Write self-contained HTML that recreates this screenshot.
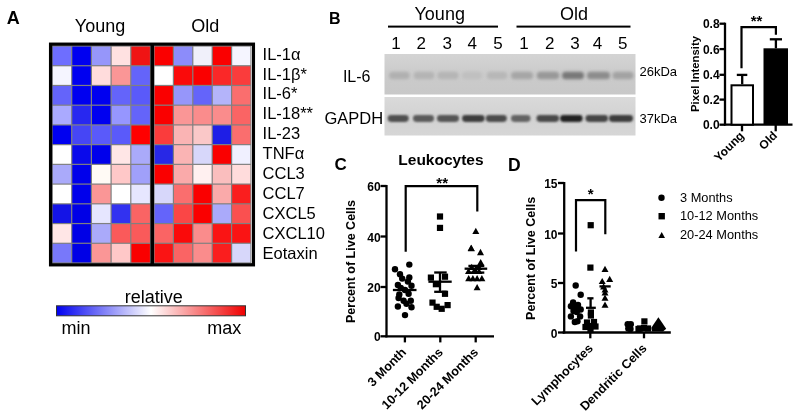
<!DOCTYPE html>
<html><head><meta charset="utf-8"><style>
html,body{margin:0;padding:0;background:#fff;overflow:hidden;}
svg{display:block;font-family:"Liberation Sans", sans-serif;will-change:transform;}
</style></head><body>
<svg width="800" height="419" viewBox="0 0 800 419">
<rect width="800" height="419" fill="#fff"/>
<rect x="52.0" y="46.0" width="199.0" height="217.0" fill="#808080"/>
<rect x="52.60" y="46.60" width="18.50" height="18.53" fill="rgb(110, 110, 255)"/>
<rect x="72.30" y="46.60" width="18.50" height="18.53" fill="rgb(0, 0, 240)"/>
<rect x="92.00" y="46.60" width="18.50" height="18.53" fill="rgb(150, 150, 250)"/>
<rect x="111.70" y="46.60" width="18.50" height="18.53" fill="rgb(255, 225, 225)"/>
<rect x="131.40" y="46.60" width="18.50" height="18.53" fill="rgb(240, 20, 20)"/>
<rect x="154.60" y="46.60" width="18.20" height="18.53" fill="rgb(250, 0, 0)"/>
<rect x="174.00" y="46.60" width="18.20" height="18.53" fill="rgb(140, 140, 250)"/>
<rect x="193.40" y="46.60" width="18.20" height="18.53" fill="rgb(240, 240, 250)"/>
<rect x="212.80" y="46.60" width="18.20" height="18.53" fill="rgb(250, 0, 0)"/>
<rect x="232.20" y="46.60" width="18.20" height="18.53" fill="rgb(245, 245, 255)"/>
<rect x="52.60" y="66.33" width="18.50" height="18.53" fill="rgb(245, 245, 255)"/>
<rect x="72.30" y="66.33" width="18.50" height="18.53" fill="rgb(0, 0, 240)"/>
<rect x="92.00" y="66.33" width="18.50" height="18.53" fill="rgb(255, 220, 220)"/>
<rect x="111.70" y="66.33" width="18.50" height="18.53" fill="rgb(250, 150, 150)"/>
<rect x="131.40" y="66.33" width="18.50" height="18.53" fill="rgb(100, 100, 250)"/>
<rect x="154.60" y="66.33" width="18.20" height="18.53" fill="rgb(255, 255, 255)"/>
<rect x="174.00" y="66.33" width="18.20" height="18.53" fill="rgb(250, 10, 10)"/>
<rect x="193.40" y="66.33" width="18.20" height="18.53" fill="rgb(250, 0, 0)"/>
<rect x="212.80" y="66.33" width="18.20" height="18.53" fill="rgb(250, 40, 40)"/>
<rect x="232.20" y="66.33" width="18.20" height="18.53" fill="rgb(250, 60, 60)"/>
<rect x="52.60" y="86.05" width="18.50" height="18.53" fill="rgb(100, 100, 250)"/>
<rect x="72.30" y="86.05" width="18.50" height="18.53" fill="rgb(0, 0, 240)"/>
<rect x="92.00" y="86.05" width="18.50" height="18.53" fill="rgb(0, 0, 240)"/>
<rect x="111.70" y="86.05" width="18.50" height="18.53" fill="rgb(100, 100, 250)"/>
<rect x="131.40" y="86.05" width="18.50" height="18.53" fill="rgb(90, 90, 250)"/>
<rect x="154.60" y="86.05" width="18.20" height="18.53" fill="rgb(250, 0, 0)"/>
<rect x="174.00" y="86.05" width="18.20" height="18.53" fill="rgb(150, 150, 250)"/>
<rect x="193.40" y="86.05" width="18.20" height="18.53" fill="rgb(100, 100, 250)"/>
<rect x="212.80" y="86.05" width="18.20" height="18.53" fill="rgb(180, 180, 250)"/>
<rect x="232.20" y="86.05" width="18.20" height="18.53" fill="rgb(250, 110, 110)"/>
<rect x="52.60" y="105.78" width="18.50" height="18.53" fill="rgb(170, 170, 255)"/>
<rect x="72.30" y="105.78" width="18.50" height="18.53" fill="rgb(40, 40, 240)"/>
<rect x="92.00" y="105.78" width="18.50" height="18.53" fill="rgb(0, 0, 240)"/>
<rect x="111.70" y="105.78" width="18.50" height="18.53" fill="rgb(150, 150, 255)"/>
<rect x="131.40" y="105.78" width="18.50" height="18.53" fill="rgb(100, 100, 250)"/>
<rect x="154.60" y="105.78" width="18.20" height="18.53" fill="rgb(250, 0, 0)"/>
<rect x="174.00" y="105.78" width="18.20" height="18.53" fill="rgb(250, 150, 150)"/>
<rect x="193.40" y="105.78" width="18.20" height="18.53" fill="rgb(250, 140, 140)"/>
<rect x="212.80" y="105.78" width="18.20" height="18.53" fill="rgb(250, 140, 140)"/>
<rect x="232.20" y="105.78" width="18.20" height="18.53" fill="rgb(250, 100, 100)"/>
<rect x="52.60" y="125.51" width="18.50" height="18.53" fill="rgb(0, 0, 240)"/>
<rect x="72.30" y="125.51" width="18.50" height="18.53" fill="rgb(70, 70, 245)"/>
<rect x="92.00" y="125.51" width="18.50" height="18.53" fill="rgb(90, 90, 250)"/>
<rect x="111.70" y="125.51" width="18.50" height="18.53" fill="rgb(90, 90, 250)"/>
<rect x="131.40" y="125.51" width="18.50" height="18.53" fill="rgb(255, 0, 0)"/>
<rect x="154.60" y="125.51" width="18.20" height="18.53" fill="rgb(250, 60, 60)"/>
<rect x="174.00" y="125.51" width="18.20" height="18.53" fill="rgb(250, 180, 180)"/>
<rect x="193.40" y="125.51" width="18.20" height="18.53" fill="rgb(250, 200, 200)"/>
<rect x="212.80" y="125.51" width="18.20" height="18.53" fill="rgb(30, 30, 230)"/>
<rect x="232.20" y="125.51" width="18.20" height="18.53" fill="rgb(250, 110, 110)"/>
<rect x="52.60" y="145.24" width="18.50" height="18.53" fill="rgb(255, 255, 255)"/>
<rect x="72.30" y="145.24" width="18.50" height="18.53" fill="rgb(10, 10, 235)"/>
<rect x="92.00" y="145.24" width="18.50" height="18.53" fill="rgb(0, 0, 235)"/>
<rect x="111.70" y="145.24" width="18.50" height="18.53" fill="rgb(255, 230, 230)"/>
<rect x="131.40" y="145.24" width="18.50" height="18.53" fill="rgb(170, 170, 250)"/>
<rect x="154.60" y="145.24" width="18.20" height="18.53" fill="rgb(40, 40, 230)"/>
<rect x="174.00" y="145.24" width="18.20" height="18.53" fill="rgb(250, 180, 180)"/>
<rect x="193.40" y="145.24" width="18.20" height="18.53" fill="rgb(215, 215, 250)"/>
<rect x="212.80" y="145.24" width="18.20" height="18.53" fill="rgb(250, 0, 0)"/>
<rect x="232.20" y="145.24" width="18.20" height="18.53" fill="rgb(240, 240, 255)"/>
<rect x="52.60" y="164.96" width="18.50" height="18.53" fill="rgb(170, 170, 250)"/>
<rect x="72.30" y="164.96" width="18.50" height="18.53" fill="rgb(0, 0, 235)"/>
<rect x="92.00" y="164.96" width="18.50" height="18.53" fill="rgb(255, 250, 245)"/>
<rect x="111.70" y="164.96" width="18.50" height="18.53" fill="rgb(255, 200, 200)"/>
<rect x="131.40" y="164.96" width="18.50" height="18.53" fill="rgb(160, 160, 250)"/>
<rect x="154.60" y="164.96" width="18.20" height="18.53" fill="rgb(250, 0, 0)"/>
<rect x="174.00" y="164.96" width="18.20" height="18.53" fill="rgb(250, 170, 170)"/>
<rect x="193.40" y="164.96" width="18.20" height="18.53" fill="rgb(255, 240, 240)"/>
<rect x="212.80" y="164.96" width="18.20" height="18.53" fill="rgb(250, 190, 190)"/>
<rect x="232.20" y="164.96" width="18.20" height="18.53" fill="rgb(255, 220, 220)"/>
<rect x="52.60" y="184.69" width="18.50" height="18.53" fill="rgb(255, 255, 255)"/>
<rect x="72.30" y="184.69" width="18.50" height="18.53" fill="rgb(0, 0, 235)"/>
<rect x="92.00" y="184.69" width="18.50" height="18.53" fill="rgb(250, 150, 150)"/>
<rect x="111.70" y="184.69" width="18.50" height="18.53" fill="rgb(255, 255, 255)"/>
<rect x="131.40" y="184.69" width="18.50" height="18.53" fill="rgb(230, 230, 255)"/>
<rect x="154.60" y="184.69" width="18.20" height="18.53" fill="rgb(215, 215, 250)"/>
<rect x="174.00" y="184.69" width="18.20" height="18.53" fill="rgb(250, 110, 110)"/>
<rect x="193.40" y="184.69" width="18.20" height="18.53" fill="rgb(250, 0, 0)"/>
<rect x="212.80" y="184.69" width="18.20" height="18.53" fill="rgb(250, 170, 170)"/>
<rect x="232.20" y="184.69" width="18.20" height="18.53" fill="rgb(250, 30, 30)"/>
<rect x="52.60" y="204.42" width="18.50" height="18.53" fill="rgb(20, 20, 230)"/>
<rect x="72.30" y="204.42" width="18.50" height="18.53" fill="rgb(0, 0, 230)"/>
<rect x="92.00" y="204.42" width="18.50" height="18.53" fill="rgb(230, 230, 255)"/>
<rect x="111.70" y="204.42" width="18.50" height="18.53" fill="rgb(50, 50, 240)"/>
<rect x="131.40" y="204.42" width="18.50" height="18.53" fill="rgb(250, 100, 100)"/>
<rect x="154.60" y="204.42" width="18.20" height="18.53" fill="rgb(100, 100, 250)"/>
<rect x="174.00" y="204.42" width="18.20" height="18.53" fill="rgb(250, 70, 70)"/>
<rect x="193.40" y="204.42" width="18.20" height="18.53" fill="rgb(250, 0, 0)"/>
<rect x="212.80" y="204.42" width="18.20" height="18.53" fill="rgb(170, 170, 250)"/>
<rect x="232.20" y="204.42" width="18.20" height="18.53" fill="rgb(250, 80, 80)"/>
<rect x="52.60" y="224.15" width="18.50" height="18.53" fill="rgb(255, 230, 230)"/>
<rect x="72.30" y="224.15" width="18.50" height="18.53" fill="rgb(0, 0, 230)"/>
<rect x="92.00" y="224.15" width="18.50" height="18.53" fill="rgb(170, 170, 250)"/>
<rect x="111.70" y="224.15" width="18.50" height="18.53" fill="rgb(250, 90, 90)"/>
<rect x="131.40" y="224.15" width="18.50" height="18.53" fill="rgb(250, 90, 90)"/>
<rect x="154.60" y="224.15" width="18.20" height="18.53" fill="rgb(250, 100, 100)"/>
<rect x="174.00" y="224.15" width="18.20" height="18.53" fill="rgb(250, 10, 10)"/>
<rect x="193.40" y="224.15" width="18.20" height="18.53" fill="rgb(250, 140, 140)"/>
<rect x="212.80" y="224.15" width="18.20" height="18.53" fill="rgb(250, 20, 20)"/>
<rect x="232.20" y="224.15" width="18.20" height="18.53" fill="rgb(250, 20, 20)"/>
<rect x="52.60" y="243.87" width="18.50" height="18.53" fill="rgb(120, 120, 250)"/>
<rect x="72.30" y="243.87" width="18.50" height="18.53" fill="rgb(0, 0, 230)"/>
<rect x="92.00" y="243.87" width="18.50" height="18.53" fill="rgb(250, 150, 150)"/>
<rect x="111.70" y="243.87" width="18.50" height="18.53" fill="rgb(255, 200, 200)"/>
<rect x="131.40" y="243.87" width="18.50" height="18.53" fill="rgb(250, 0, 0)"/>
<rect x="154.60" y="243.87" width="18.20" height="18.53" fill="rgb(250, 20, 20)"/>
<rect x="174.00" y="243.87" width="18.20" height="18.53" fill="rgb(250, 100, 100)"/>
<rect x="193.40" y="243.87" width="18.20" height="18.53" fill="rgb(250, 140, 140)"/>
<rect x="212.80" y="243.87" width="18.20" height="18.53" fill="rgb(250, 30, 30)"/>
<rect x="232.20" y="243.87" width="18.20" height="18.53" fill="rgb(215, 215, 250)"/>
<rect x="50.6" y="44.2" width="202.8" height="220.6" fill="none" stroke="#000" stroke-width="3.3"/>
<rect x="150.5" y="44" width="3.5" height="221" fill="#000"/>
<text x="6.8" y="23.7" font-size="18" font-weight="bold">A</text>
<text x="74.8" y="31.8" font-size="18">Young</text>
<text x="191.3" y="31.7" font-size="18">Old</text>
<text x="262.6" y="59.60" font-size="16.5">IL-1α</text>
<text x="262.6" y="79.50" font-size="16.5">IL-1β*</text>
<text x="262.6" y="99.40" font-size="16.5">IL-6*</text>
<text x="262.6" y="119.30" font-size="16.5">IL-18**</text>
<text x="262.6" y="139.20" font-size="16.5">IL-23</text>
<text x="262.6" y="159.10" font-size="16.5">TNFα</text>
<text x="262.6" y="179.00" font-size="16.5">CCL3</text>
<text x="262.6" y="198.90" font-size="16.5">CCL7</text>
<text x="262.6" y="218.80" font-size="16.5">CXCL5</text>
<text x="262.6" y="238.70" font-size="16.5">CXCL10</text>
<text x="262.6" y="258.60" font-size="16.5">Eotaxin</text>
<defs><linearGradient id="cb" x1="0" x2="1" y1="0" y2="0"><stop offset="0" stop-color="#0000f0"/><stop offset="0.5" stop-color="#ffffff"/><stop offset="1" stop-color="#f00000"/></linearGradient><filter id="bl" x="-50%" y="-50%" width="200%" height="200%"><feGaussianBlur stdDeviation="1.6"/></filter><filter id="bl2" x="-50%" y="-50%" width="200%" height="200%"><feGaussianBlur stdDeviation="0.85"/></filter></defs>
<rect x="56.5" y="305.8" width="189" height="10" fill="url(#cb)" stroke="#333" stroke-width="1"/>
<text x="124.8" y="303.2" font-size="18">relative</text>
<text x="61.6" y="334.4" font-size="18">min</text>
<text x="207.2" y="334.4" font-size="18">max</text>
<text x="329" y="23.6" font-size="16" font-weight="bold">B</text>
<text x="414.5" y="19.9" font-size="18">Young</text>
<text x="560" y="19.7" font-size="18">Old</text>
<rect x="388" y="25.6" width="110" height="2" fill="#000"/>
<rect x="516.5" y="25.6" width="114" height="2" fill="#000"/>
<text x="396" y="49.2" font-size="17" text-anchor="middle">1</text>
<text x="421.3" y="49.2" font-size="17" text-anchor="middle">2</text>
<text x="447.2" y="49.2" font-size="17" text-anchor="middle">3</text>
<text x="472.2" y="49.2" font-size="17" text-anchor="middle">4</text>
<text x="497.9" y="49.2" font-size="17" text-anchor="middle">5</text>
<text x="524" y="49.2" font-size="17" text-anchor="middle">1</text>
<text x="549.75" y="49.2" font-size="17" text-anchor="middle">2</text>
<text x="575" y="49.2" font-size="17" text-anchor="middle">3</text>
<text x="597.5" y="49.2" font-size="17" text-anchor="middle">4</text>
<text x="622.75" y="49.2" font-size="17" text-anchor="middle">5</text>
<defs><linearGradient id="bgu" x1="0" x2="0" y1="0" y2="1"><stop offset="0" stop-color="#d4d4d4"/><stop offset="0.5" stop-color="#cbcbcb"/><stop offset="1" stop-color="#c8c8c8"/></linearGradient><linearGradient id="bgl" x1="0" x2="0" y1="0" y2="1"><stop offset="0" stop-color="#dadada"/><stop offset="0.5" stop-color="#d2d2d2"/><stop offset="1" stop-color="#d6d6d6"/></linearGradient></defs>
<rect x="384.5" y="54" width="251" height="40.5" fill="url(#bgu)"/>
<rect x="384.5" y="97" width="251" height="38.5" fill="url(#bgl)"/>
<rect x="389.1" y="71.8" width="20.5" height="7.4" rx="3.5" fill="rgb(176,176,176)" filter="url(#bl)"/>
<rect x="413.8" y="71.8" width="20.5" height="7.4" rx="3.5" fill="rgb(180,180,180)" filter="url(#bl)"/>
<rect x="437.5" y="71.8" width="21" height="7.4" rx="3.5" fill="rgb(181,181,181)" filter="url(#bl)"/>
<rect x="462.0" y="71.8" width="20" height="7.4" rx="3.5" fill="rgb(192,192,192)" filter="url(#bl)"/>
<rect x="486.8" y="71.8" width="20.5" height="7.4" rx="3.5" fill="rgb(183,183,183)" filter="url(#bl)"/>
<rect x="511.0" y="71.8" width="22" height="7.4" rx="3.5" fill="rgb(166,166,166)" filter="url(#bl)"/>
<rect x="536.8" y="71.8" width="22.5" height="7.4" rx="3.5" fill="rgb(152,152,152)" filter="url(#bl)"/>
<rect x="562.0" y="71.8" width="22" height="7.4" rx="3.5" fill="rgb(120,120,120)" filter="url(#bl)"/>
<rect x="587.0" y="71.8" width="23" height="7.4" rx="3.5" fill="rgb(140,140,140)" filter="url(#bl)"/>
<rect x="612.5" y="71.8" width="21" height="7.4" rx="3.5" fill="rgb(163,163,163)" filter="url(#bl)"/>
<rect x="387.7" y="114.9" width="21" height="7" rx="3.3" fill="rgb(80,80,80)" filter="url(#bl2)"/>
<rect x="413.0" y="114.9" width="21" height="7" rx="3.3" fill="rgb(90,90,90)" filter="url(#bl2)"/>
<rect x="437.0" y="114.9" width="22" height="7" rx="3.3" fill="rgb(85,85,85)" filter="url(#bl2)"/>
<rect x="462.1" y="114.9" width="22.5" height="7" rx="3.3" fill="rgb(62,62,62)" filter="url(#bl2)"/>
<rect x="485.8" y="114.9" width="21" height="7" rx="3.3" fill="rgb(75,75,75)" filter="url(#bl2)"/>
<rect x="511.0" y="114.9" width="19.5" height="7" rx="3.3" fill="rgb(100,100,100)" filter="url(#bl2)"/>
<rect x="536.5" y="114.9" width="22.5" height="7" rx="3.3" fill="rgb(72,72,72)" filter="url(#bl2)"/>
<rect x="560.1" y="114.9" width="22.5" height="7" rx="3.3" fill="rgb(35,35,35)" filter="url(#bl2)"/>
<rect x="585.5" y="114.9" width="22.5" height="7" rx="3.3" fill="rgb(68,68,68)" filter="url(#bl2)"/>
<rect x="609.0" y="114.9" width="24" height="7" rx="3.3" fill="rgb(60,60,60)" filter="url(#bl2)"/>
<text x="342.9" y="81.7" font-size="16">IL-6</text>
<text x="324.5" y="123.5" font-size="16.5">GAPDH</text>
<text x="639.5" y="75.5" font-size="13">26kDa</text>
<text x="639.5" y="122.5" font-size="13">37kDa</text>
<line x1="725" y1="22.7" x2="725" y2="125.5" stroke="#000" stroke-width="2.3"/>
<line x1="719.5" y1="23.7" x2="725" y2="23.7" stroke="#000" stroke-width="2.3"/>
<text x="719.6" y="28.1" font-size="12" font-weight="bold" text-anchor="end">0.8</text>
<line x1="719.5" y1="49.1" x2="725" y2="49.1" stroke="#000" stroke-width="2.3"/>
<text x="719.6" y="53.5" font-size="12" font-weight="bold" text-anchor="end">0.6</text>
<line x1="719.5" y1="74.8" x2="725" y2="74.8" stroke="#000" stroke-width="2.3"/>
<text x="719.6" y="79.2" font-size="12" font-weight="bold" text-anchor="end">0.4</text>
<line x1="719.5" y1="99.6" x2="725" y2="99.6" stroke="#000" stroke-width="2.3"/>
<text x="719.6" y="104.0" font-size="12" font-weight="bold" text-anchor="end">0.2</text>
<line x1="719.5" y1="124.7" x2="725" y2="124.7" stroke="#000" stroke-width="2.3"/>
<text x="719.6" y="129.1" font-size="12" font-weight="bold" text-anchor="end">0.0</text>
<line x1="724" y1="124.7" x2="792.5" y2="124.7" stroke="#000" stroke-width="2.3"/>
<line x1="742" y1="124.7" x2="742" y2="131.3" stroke="#000" stroke-width="2.3"/>
<line x1="775.7" y1="124.7" x2="775.7" y2="131.3" stroke="#000" stroke-width="2.3"/>
<rect x="731.5" y="85.3" width="21.5" height="39.4" fill="#fff" stroke="#000" stroke-width="2"/>
<line x1="742.2" y1="84.3" x2="742.2" y2="74.9" stroke="#000" stroke-width="2.3"/>
<line x1="736.8" y1="74.9" x2="747.3" y2="74.9" stroke="#000" stroke-width="2.3"/>
<rect x="763.5" y="48.3" width="24.5" height="76.5" fill="#000"/>
<line x1="775.9" y1="48.3" x2="775.9" y2="39.3" stroke="#000" stroke-width="2.3"/>
<line x1="769.8" y1="39.3" x2="782" y2="39.3" stroke="#000" stroke-width="2.3"/>
<polyline points="741.5,68.2 741.5,27.2 775.9,27.2 775.9,34.8" fill="none" stroke="#000" stroke-width="2.2"/>
<text x="756.5" y="26.2" font-size="15" font-weight="bold" text-anchor="middle">**</text>
<text transform="translate(699,74) rotate(-90)" font-size="11.3" font-weight="bold" text-anchor="middle">Pixel Intensity</text>
<text transform="translate(744.8,136.5) rotate(-45)" font-size="12" font-weight="bold" text-anchor="end">Young</text>
<text transform="translate(778,136.3) rotate(-45)" font-size="12" font-weight="bold" text-anchor="end">Old</text>
<text x="334.5" y="170" font-size="17" font-weight="bold">C</text>
<text x="398.3" y="165.3" font-size="15.5" font-weight="bold">Leukocytes</text>
<line x1="386.5" y1="185" x2="386.5" y2="337.3" stroke="#000" stroke-width="2.3"/>
<line x1="380.5" y1="186" x2="386.5" y2="186" stroke="#000" stroke-width="2.3"/>
<text x="380.6" y="191.0" font-size="12" font-weight="bold" text-anchor="end">60</text>
<line x1="380.5" y1="236.5" x2="386.5" y2="236.5" stroke="#000" stroke-width="2.3"/>
<text x="380.6" y="241.5" font-size="12" font-weight="bold" text-anchor="end">40</text>
<line x1="380.5" y1="287" x2="386.5" y2="287" stroke="#000" stroke-width="2.3"/>
<text x="380.6" y="292.0" font-size="12" font-weight="bold" text-anchor="end">20</text>
<line x1="380.5" y1="336.3" x2="386.5" y2="336.3" stroke="#000" stroke-width="2.3"/>
<text x="380.6" y="341.3" font-size="12" font-weight="bold" text-anchor="end">0</text>
<line x1="385.5" y1="336.3" x2="494" y2="336.3" stroke="#000" stroke-width="2.3"/>
<line x1="404.9" y1="336.3" x2="404.9" y2="342.4" stroke="#000" stroke-width="2.3"/>
<line x1="440.3" y1="336.3" x2="440.3" y2="342.4" stroke="#000" stroke-width="2.3"/>
<line x1="475.7" y1="336.3" x2="475.7" y2="342.4" stroke="#000" stroke-width="2.3"/>
<polyline points="405.7,251.8 405.7,186.2 477.3,186.2 477.3,211.5" fill="none" stroke="#000" stroke-width="2.2"/>
<text x="442.2" y="187.9" font-size="15" font-weight="bold" text-anchor="middle">**</text>
<text transform="translate(354.8,261.5) rotate(-90)" font-size="12.5" font-weight="bold" text-anchor="middle">Percent of Live Cells</text>
<text transform="translate(407,353) rotate(-45)" font-size="12.6" font-weight="bold" text-anchor="end">3 Month</text>
<text transform="translate(443.6,353) rotate(-45)" font-size="12.6" font-weight="bold" text-anchor="end">10-12 Months</text>
<text transform="translate(479,353) rotate(-45)" font-size="12.6" font-weight="bold" text-anchor="end">20-24 Months</text>
<g fill="#000">
<circle cx="409.3" cy="264.6" r="3.2"/>
<circle cx="395.0" cy="269.3" r="3.2"/>
<circle cx="400.0" cy="274.3" r="3.2"/>
<circle cx="402.2" cy="278.6" r="3.2"/>
<circle cx="409.3" cy="277.5" r="3.2"/>
<circle cx="407.9" cy="281.5" r="3.2"/>
<circle cx="397.9" cy="285.0" r="3.2"/>
<circle cx="411.5" cy="285.8" r="3.2"/>
<circle cx="400.8" cy="287.9" r="3.2"/>
<circle cx="405.0" cy="290.0" r="3.2"/>
<circle cx="399.3" cy="294.4" r="3.2"/>
<circle cx="408.6" cy="293.7" r="3.2"/>
<circle cx="398.6" cy="298.0" r="3.2"/>
<circle cx="403.6" cy="300.8" r="3.2"/>
<circle cx="410.8" cy="300.8" r="3.2"/>
<circle cx="406.5" cy="303.7" r="3.2"/>
<circle cx="397.9" cy="306.5" r="3.2"/>
<circle cx="411.5" cy="307.3" r="3.2"/>
<circle cx="405.0" cy="315.1" r="3.2"/>
<rect x="436.9" y="213.4" width="6.2" height="6.2"/>
<rect x="436.9" y="224.8" width="6.2" height="6.2"/>
<rect x="427.8" y="274.5" width="6.2" height="6.2"/>
<rect x="441.9" y="273.6" width="6.2" height="6.2"/>
<rect x="432.8" y="281.1" width="6.2" height="6.2"/>
<rect x="441.9" y="290.7" width="6.2" height="6.2"/>
<rect x="429.4" y="299.5" width="6.2" height="6.2"/>
<rect x="433.6" y="303.7" width="6.2" height="6.2"/>
<rect x="438.6" y="305.7" width="6.2" height="6.2"/>
<rect x="444.5" y="302.0" width="6.2" height="6.2"/>
<polygon points="477.0,255.2 484.0,255.2 480.5,248.8"/>
<polygon points="467.6,251.0 474.6,251.0 471.1,244.7"/>
<polygon points="472.3,234.0 479.3,234.0 475.8,227.7"/>
<polygon points="467.8,251.2 474.8,251.2 471.3,244.8"/>
<polygon points="477.2,265.2 484.2,265.2 480.7,259.0"/>
<polygon points="468.2,270.0 475.2,270.0 471.7,263.8"/>
<polygon points="475.4,270.0 482.4,270.0 478.9,263.8"/>
<polygon points="465.0,274.1 472.0,274.1 468.5,267.9"/>
<polygon points="470.5,274.1 477.5,274.1 474.0,267.9"/>
<polygon points="475.5,274.1 482.5,274.1 479.0,267.9"/>
<polygon points="465.2,281.3 472.2,281.3 468.7,275.1"/>
<polygon points="469.4,281.3 476.4,281.3 472.9,275.1"/>
<polygon points="473.6,281.3 480.6,281.3 477.1,275.1"/>
<polygon points="478.4,281.3 485.4,281.3 481.9,275.1"/>
<polygon points="473.6,290.3 480.6,290.3 477.1,284.1"/>
</g>
<line x1="392.9" y1="290" x2="416.5" y2="290" stroke="#000" stroke-width="2.3"/>
<line x1="428.4" y1="281.7" x2="451.7" y2="281.7" stroke="#000" stroke-width="2.3"/>
<line x1="440" y1="272.5" x2="440" y2="291.8" stroke="#000" stroke-width="2.3"/>
<line x1="434.2" y1="272.5" x2="446.7" y2="272.5" stroke="#000" stroke-width="2.3"/>
<line x1="434.2" y1="291.8" x2="446.7" y2="291.8" stroke="#000" stroke-width="2.3"/>
<line x1="464.6" y1="268.7" x2="487.2" y2="268.7" stroke="#000" stroke-width="2.3"/>
<line x1="476" y1="265.9" x2="476" y2="272.6" stroke="#000" stroke-width="2.3"/>
<line x1="468.4" y1="265.9" x2="484.3" y2="265.9" stroke="#000" stroke-width="2.3"/>
<line x1="468.4" y1="272.6" x2="484.3" y2="272.6" stroke="#000" stroke-width="2.3"/>
<text x="508" y="171" font-size="17.5" font-weight="bold">D</text>
<line x1="564.2" y1="182" x2="564.2" y2="333.5" stroke="#000" stroke-width="2.3"/>
<line x1="558" y1="183" x2="564.2" y2="183" stroke="#000" stroke-width="2.3"/>
<text x="557.5" y="188.0" font-size="12" font-weight="bold" text-anchor="end">15</text>
<line x1="558" y1="233.5" x2="564.2" y2="233.5" stroke="#000" stroke-width="2.3"/>
<text x="557.5" y="238.5" font-size="12" font-weight="bold" text-anchor="end">10</text>
<line x1="558" y1="283" x2="564.2" y2="283" stroke="#000" stroke-width="2.3"/>
<text x="557.5" y="288.0" font-size="12" font-weight="bold" text-anchor="end">5</text>
<line x1="558" y1="332.5" x2="564.2" y2="332.5" stroke="#000" stroke-width="2.3"/>
<text x="557.5" y="337.5" font-size="12" font-weight="bold" text-anchor="end">0</text>
<line x1="562.6" y1="332.5" x2="670.8" y2="332.5" stroke="#000" stroke-width="2.3"/>
<line x1="590.3" y1="332.5" x2="590.3" y2="338.3" stroke="#000" stroke-width="2.3"/>
<line x1="644" y1="332.5" x2="644" y2="338.3" stroke="#000" stroke-width="2.3"/>
<polyline points="576,251.5 576,200.1 605.3,200.1 605.3,234.3" fill="none" stroke="#000" stroke-width="2.2"/>
<text x="590.6" y="198.9" font-size="15" font-weight="bold" text-anchor="middle">*</text>
<text transform="translate(534.7,258.4) rotate(-90)" font-size="12.5" font-weight="bold" text-anchor="middle">Percent of Live Cells</text>
<text transform="translate(593.7,349) rotate(-45)" font-size="12.6" font-weight="bold" text-anchor="end">Lymphocytes</text>
<text transform="translate(647.5,349) rotate(-45)" font-size="12.6" font-weight="bold" text-anchor="end">Dendritic Cells</text>
<g fill="#000">
<circle cx="575.7" cy="285.5" r="3.2"/>
<circle cx="580.7" cy="294.7" r="3.2"/>
<circle cx="573.1" cy="302.5" r="3.2"/>
<circle cx="570.9" cy="306.2" r="3.2"/>
<circle cx="575.0" cy="308.0" r="3.2"/>
<circle cx="580.7" cy="309.5" r="3.2"/>
<circle cx="576.8" cy="312.1" r="3.2"/>
<circle cx="570.9" cy="316.4" r="3.2"/>
<circle cx="580.1" cy="316.4" r="3.2"/>
<circle cx="574.8" cy="322.0" r="3.2"/>
<circle cx="577.5" cy="321.3" r="3.2"/>
<circle cx="573.5" cy="311.0" r="3.2"/>
<circle cx="578.0" cy="305.0" r="3.2"/>
<circle cx="627.7" cy="324.2" r="3.2"/>
<circle cx="630.8" cy="324.2" r="3.2"/>
<circle cx="628.3" cy="328.5" r="3.2"/>
<circle cx="630.5" cy="329.0" r="3.2"/>
<rect x="587.6" y="222.1" width="6.2" height="6.2"/>
<rect x="587.3" y="264.5" width="6.2" height="6.2"/>
<rect x="587.8" y="309.4" width="6.2" height="6.2"/>
<rect x="587.8" y="312.4" width="6.2" height="6.2"/>
<rect x="583.9" y="319.4" width="6.2" height="6.2"/>
<rect x="590.9" y="318.9" width="6.2" height="6.2"/>
<rect x="582.4" y="323.9" width="6.2" height="6.2"/>
<rect x="587.4" y="322.9" width="6.2" height="6.2"/>
<rect x="592.4" y="323.4" width="6.2" height="6.2"/>
<rect x="587.4" y="326.9" width="6.2" height="6.2"/>
<rect x="641.3" y="318.3" width="6.2" height="6.2"/>
<rect x="636.9" y="325.4" width="6.2" height="6.2"/>
<rect x="640.9" y="324.9" width="6.2" height="6.2"/>
<rect x="644.9" y="325.4" width="6.2" height="6.2"/>
<rect x="635.4" y="325.9" width="6.2" height="6.2"/>
<polygon points="658.4,317.3 666.2,328.8 663,331.5 652,331.5 651.3,327.8"/>
<polygon points="601.5,271.9 608.5,271.9 605.0,265.7"/>
<polygon points="606.2,282.0 613.2,282.0 609.7,275.8"/>
<polygon points="598.7,284.1 605.7,284.1 602.2,277.9"/>
<polygon points="600.1,289.5 607.1,289.5 603.6,283.2"/>
<polygon points="601.5,292.6 608.5,292.6 605.0,286.4"/>
<polygon points="601.5,295.6 608.5,295.6 605.0,289.4"/>
<polygon points="601.5,300.8 608.5,300.8 605.0,294.5"/>
<polygon points="601.5,307.8 608.5,307.8 605.0,301.6"/>
<circle cx="661.5" cy="197.7" r="3.2"/>
<rect x="658.5" y="213.0" width="6.4" height="6.4"/>
<polygon points="658.4,238.0 665.0,238.0 661.7,232.0"/>
</g>
<line x1="586" y1="307.8" x2="595.8" y2="307.8" stroke="#000" stroke-width="2.3"/>
<line x1="590.6" y1="298.3" x2="590.6" y2="307.8" stroke="#000" stroke-width="2.3"/>
<line x1="587.3" y1="298.3" x2="593.5" y2="298.3" stroke="#000" stroke-width="2.3"/>
<line x1="599.5" y1="286.4" x2="610.7" y2="286.4" stroke="#000" stroke-width="2.3"/>
<line x1="628" y1="330" x2="631" y2="330" stroke="#000" stroke-width="2.3"/>
<text x="680" y="202.0" font-size="12.8">3 Months</text>
<text x="680" y="220.3" font-size="12.8">10-12 Months</text>
<text x="680" y="238.6" font-size="12.8">20-24 Months</text>
</svg>
</body></html>
